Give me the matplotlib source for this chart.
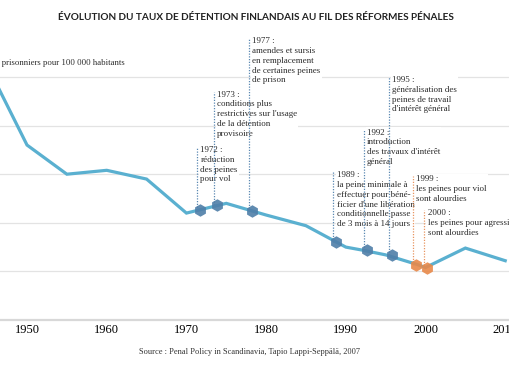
# -*- coding: utf-8 -*-
''' Taux de detention finlandais, 1945-2010. '''

import matplotlib
matplotlib.use('Agg')
import matplotlib.pyplot as plt

###############################################################################
# data
###############################################################################
years = [1945, 1950, 1955, 1960, 1965, 1970, 1975, 1980, 1985, 1990,
         1992, 1995, 1999, 2000, 2005, 2010]
rate = [262, 180, 150, 154, 145, 110, 120, 108, 97, 75,
        72, 67, 57, 54, 74, 61]

event_years = [1971.7, 1973.8, 1978.2, 1988.8, 1992.6, 1995.8, 1998.8, 2000.2]
event_rate = [113, 118, 112.5, 80, 72, 67, 57, 54]
event_kind = ['blue'] * 6 + ['orange'] * 2
event_text = [
    "1972 :\nréduction\ndes peines\npour vol",
    "1973 :\nconditions plus\nrestrictives sur l'usage\nde la détention\nprovisoire",
    "1977 :\namendes et sursis\nen remplacement\nde certaines peines\nde prison",
    "1989 :\nla peine minimale à\neffectuer pour béné-\nficier d'une libération\nconditionnelle passe\nde 3 mois à 14 jours",
    "1992 :\nintroduction\ndes travaux d'intérêt\ngénéral",
    "1995 :\ngénéralisation des\npeines de travail\nd'intérêt général",
    "1999 :\nles peines pour viol\nsont alourdies",
    "2000 :\nles peines pour agression\nsont alourdies",
]

xticks = [1950, 1960, 1970, 1980, 1990, 2000, 2010]
yticks = [50, 100, 150, 200, 250]

title = 'ÉVOLUTION DU TAUX DE DÉTENTION FINLANDAIS AU FIL DES RÉFORMES PÉNALES'
ylabel = 'Nombre de prisonniers pour 100 000 habitants'
source = 'Source : Penal Policy in Scandinavia, Tapio Lappi-Seppälä, 2007'

# layout: top of each annotation block (in rate units)
text_top = [179, 236, 291, 153, 197, 251, 149, 114]

colors = {'blue': '#4f7ea8', 'orange': '#e8894a'}
dot_colors = {'blue': '#5a88b2', 'orange': '#e89560'}
serif = 'Liberation Serif'


def plot():
    fig = plt.figure(figsize=(5.1, 3.7), dpi=100)
    ax = fig.add_axes([0, 50 / 370, 1, 291.6 / 370])
    ax.set_xlim(1946.61, 1946.61 + 510 / 7.97)
    ax.set_ylim(0, 300)
    for s in ax.spines.values():
        s.set_visible(False)

    for v in yticks:
        ax.axhline(v, color='#e3e3e3', lw=0.9, zorder=0)
    ax.axhline(0, color='#d8d8d8', lw=1.6, zorder=0, clip_on=False)

    ax.set_yticks([])
    ax.set_xticks(xticks)
    ax.set_xticklabels([str(x) for x in xticks], fontfamily=serif, fontsize=9)
    ax.tick_params(axis='x', length=0, pad=3)

    ax.plot(years, rate, color='#5ab0d0', lw=2.3, zorder=4,
            solid_joinstyle='miter')

    for x, y, kind, txt, top in zip(event_years, event_rate, event_kind,
                                    event_text, text_top):
        ax.plot([x - 0.35, x - 0.35], [y, top - 1], ls=(0, (1, 1.2)), lw=0.9,
                color=dot_colors[kind], zorder=3)
        ax.plot(x, y, marker='h', ms=9, color=colors[kind], alpha=0.9,
                mec='none', zorder=5)
        ax.text(x + 0.05, top, txt, fontfamily=serif, fontsize=6.5,
                color='#2b2b2b', va='top', ha='left', linespacing=1.3,
                zorder=2, bbox=dict(facecolor='white', edgecolor='none',
                                    pad=0.8))

    ax.text(1962.3, 264, ylabel, fontfamily=serif, fontsize=6.3,
            color='#2b2b2b', ha='right', va='center')

    fig.text(0.502, 1 - 17 / 370, title, fontfamily='Lato', fontweight='bold',
             fontsize=7.2, color='#222222', ha='center', va='center')
    fig.text(0.49, 1 - 352 / 370, source, fontfamily=serif, fontsize=6,
             color='#333333', ha='center', va='center')

    fig.savefig('out.png', dpi=100, facecolor='white')


if __name__ == '__main__':
    plot()
